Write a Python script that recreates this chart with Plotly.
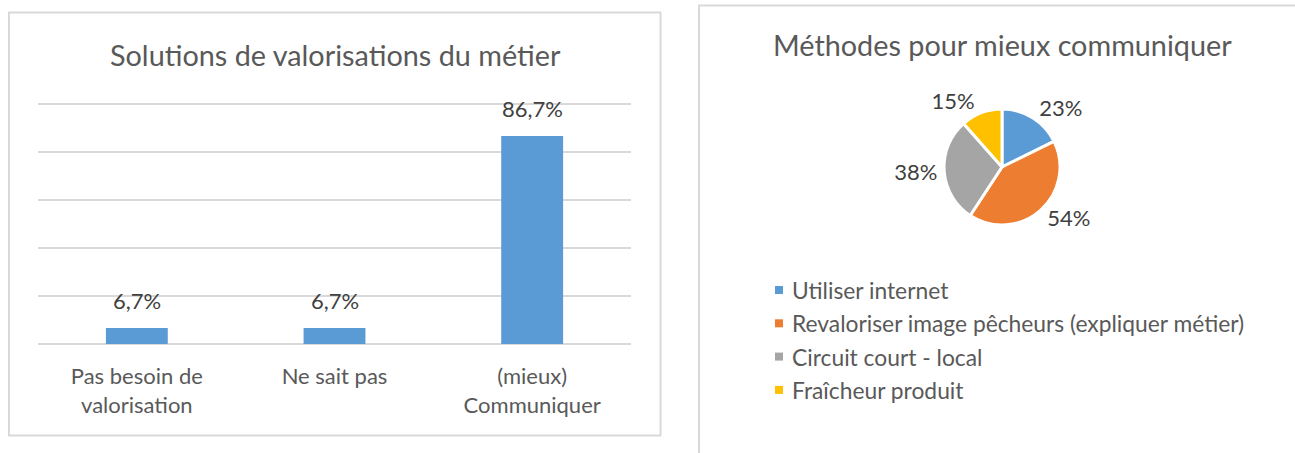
import plotly.graph_objects as go

W, H = 1295, 453

# ---- data ----
bar_categories = ["Pas besoin de<br>valorisation", "Ne sait pas", "(mieux)<br>Communiquer"]
bar_values = [6.7, 6.7, 86.7]
bar_labels = ["6,7%", "6,7%", "86,7%"]
bar_title = "Solutions de valorisations du métier"

pie_labels = ["Utiliser internet", "Revaloriser image pêcheurs (expliquer métier)",
              "Circuit court - local", "Fraîcheur produit"]
pie_values = [23, 54, 38, 15]
pie_colors = ["#5B9BD5", "#ED7D31", "#A5A5A5", "#FFC000"]
pie_title = "Méthodes pour mieux communiquer"

FONT = "Lato"
TXT = "#595959"
DARK = "#404040"
FS = 22
LFS = 22.8
TFS = 28.8

def px_x(x):
    return x / W

def px_y(y):
    return 1 - y / H

fig = go.Figure()

fig.add_trace(go.Bar(
    x=bar_categories, y=bar_values,
    marker=dict(color="#5B9BD5", line=dict(width=0)),
    width=0.313, showlegend=False, hoverinfo="skip",
))

fig.add_trace(go.Pie(
    labels=pie_labels, values=pie_values,
    text=[f"{v}%" for v in pie_values],
    textinfo="text", textposition="outside",
    textfont=dict(family=FONT, size=FS, color=DARK),
    marker=dict(colors=pie_colors, line=dict(color="white", width=3)),
    sort=False, direction="clockwise", rotation=0,
    domain=dict(x=[px_x(944), px_x(1060)], y=[px_y(225), px_y(109)]),
    showlegend=False, hoverinfo="skip",
))

annotations = []
# data labels on bars
for c, v, t in zip(bar_categories, bar_values, bar_labels):
    annotations.append(dict(x=c, y=v, xref="x", yref="y", text=t, showarrow=False,
                            yanchor="bottom", yshift=12,
                            font=dict(family=FONT, size=FS, color=DARK)))
# titles
annotations.append(dict(x=px_x(335), y=px_y(55), xref="paper", yref="paper", text=bar_title,
                        showarrow=False, xanchor="center", yanchor="middle",
                        font=dict(family=FONT, size=TFS, color=TXT)))
annotations.append(dict(x=px_x(1002), y=px_y(45), xref="paper", yref="paper", text=pie_title,
                        showarrow=False, xanchor="center", yanchor="middle",
                        font=dict(family=FONT, size=TFS, color=TXT)))

shapes = []
# chart borders
shapes.append(dict(type="rect", xref="paper", yref="paper",
                   x0=px_x(9), x1=px_x(660.5), y0=px_y(435.5), y1=px_y(12.5),
                   line=dict(color="#D9D9D9", width=2), fillcolor="rgba(0,0,0,0)", layer="below"))
shapes.append(dict(type="rect", xref="paper", yref="paper",
                   x0=px_x(699), x1=px_x(1310), y0=px_y(470), y1=px_y(5.5),
                   line=dict(color="#D9D9D9", width=2), fillcolor="rgba(0,0,0,0)", layer="below"))

# manual legend
leg_y0, leg_dy = 290, 33.3
for i, (lab, col) in enumerate(zip(pie_labels, pie_colors)):
    yc = leg_y0 + i * leg_dy
    shapes.append(dict(type="rect", xref="paper", yref="paper",
                       x0=px_x(775), x1=px_x(783), y0=px_y(yc + 4), y1=px_y(yc - 4),
                       line=dict(width=0), fillcolor=col))
    annotations.append(dict(x=px_x(790), y=px_y(yc), xref="paper", yref="paper", text=lab,
                            showarrow=False, xanchor="left", yanchor="middle",
                            font=dict(family=FONT, size=LFS, color=TXT)))

YMAX = 102
fig.update_layout(
    width=W, height=H,
    margin=dict(l=0, r=0, t=0, b=0),
    paper_bgcolor="white", plot_bgcolor="white",
    font=dict(family=FONT, color=TXT),
    xaxis=dict(domain=[px_x(38), px_x(631)], showgrid=False, showline=False, zeroline=False,
               ticks="", tickfont=dict(family=FONT, size=FS, color=TXT),
               ticklabelstandoff=17, fixedrange=True),
    yaxis=dict(domain=[px_y(344), px_y(344 - 2.4 * YMAX)], range=[0, YMAX], dtick=20,
               showgrid=True, gridcolor="#D9D9D9", gridwidth=1.5,
               zeroline=True, zerolinecolor="#D9D9D9", zerolinewidth=1.5,
               showticklabels=False, ticks="", showline=False, fixedrange=True),
    annotations=annotations, shapes=shapes,
)

fig.write_html("out.html", config={"displayModeBar": False},
               post_script="document.body.style.margin='0';document.body.style.overflow='hidden';")
